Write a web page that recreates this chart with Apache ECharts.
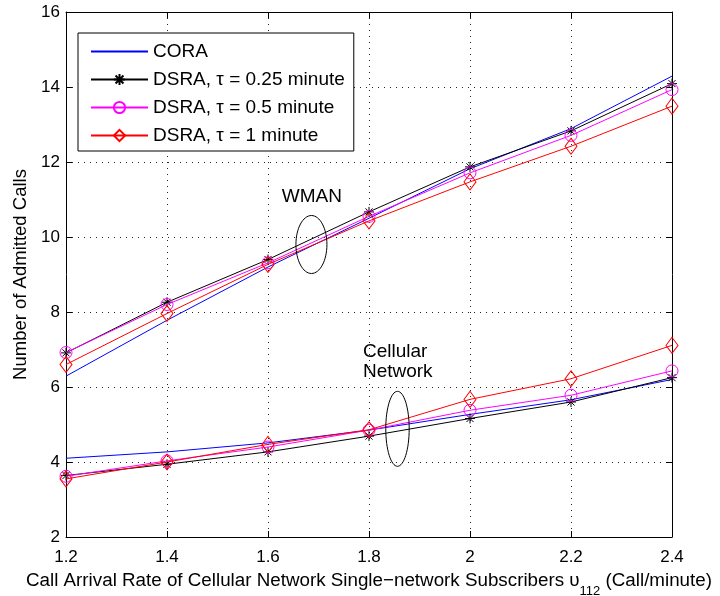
<!DOCTYPE html>
<html>
<head>
<meta charset="utf-8">
<script src="https://cdn.jsdelivr.net/npm/echarts@6/dist/echarts.min.js"></script>
<style>
html,body{margin:0;padding:0;background:#fff;}
#chart{width:720px;height:596px;}
</style>
</head>
<body>
<div id="chart"></div>
<script>
// ---- data ----
const xValues = [1.2, 1.4, 1.6, 1.8, 2.0, 2.2, 2.4];
const legendNames = ['CORA', 'DSRA, \u03c4 = 0.25 minute', 'DSRA, \u03c4 = 0.5 minute', 'DSRA, \u03c4 = 1 minute'];
// WMAN group
const coraWman = [6.29, 7.78, 9.2, 10.5, 11.82, 12.89, 14.29];
const dsra025Wman = [6.91, 8.26, 9.4, 10.67, 11.87, 12.83, 14.09];
const dsra05Wman = [6.92, 8.2, 9.31, 10.55, 11.71, 12.71, 13.93];
const dsra1Wman = [6.6, 7.96, 9.27, 10.43, 11.47, 12.42, 13.49];
// Cellular network group
const coraCell = [4.1, 4.27, 4.51, 4.85, 5.27, 5.66, 6.2];
const dsra025Cell = [3.64, 3.94, 4.27, 4.69, 5.16, 5.6, 6.25];
const dsra05Cell = [3.62, 4.03, 4.4, 4.85, 5.38, 5.78, 6.43];
const dsra1Cell = [3.55, 4.0, 4.47, 4.86, 5.67, 6.22, 7.11];
// annotations (data coordinates)
const wmanLabel = {text: 'WMAN', x: 1.687, y: 11.08};
const cellLabel = {text: 'Cellular\nNetwork', x: 1.788, y: 6.667};
const wmanEllipse = {x: 1.686, y: 9.8, rx: 0.0307, ry: 0.773};
const cellEllipse = {x: 1.8564, y: 4.885, rx: 0.0232, ry: 1.0};

const FONT = 'Liberation Sans, Arial, sans-serif';
const starPath = 'path://M0,-1L0,1M-1,0L1,0M-0.707,-0.707L0.707,0.707M-0.707,0.707L0.707,-0.707';

function zip(ys){ return xValues.map((x,i)=>[x, ys[i]]); }

const styles = [
  {color:'#0000ff', symbol:'none', size:0},
  {color:'#000000', symbol:starPath, size:10},
  {color:'#ff00ff', symbol:'circle', size:12},
  {color:'#ff0000', symbol:'diamond', size:[12,16]}
];

function mkSeries(idx, ys){
  const s = styles[idx];
  return {
    name: legendNames[idx],
    type: 'line',
    data: zip(ys),
    symbol: s.symbol,
    symbolSize: s.size,
    showSymbol: s.symbol !== 'none',
    animation: false,
    lineStyle: {color: s.color, width: 1},
    itemStyle: {color: 'rgba(0,0,0,0)', borderColor: s.color, borderWidth: 1},
    emphasis: {disabled: true},
    z: 2 + idx
  };
}

const series = [
  mkSeries(0, coraWman), mkSeries(1, dsra025Wman), mkSeries(2, dsra05Wman), mkSeries(3, dsra1Wman),
  mkSeries(0, coraCell), mkSeries(1, dsra025Cell), mkSeries(2, dsra05Cell), mkSeries(3, dsra1Cell)
];

const chart = echarts.init(document.getElementById('chart'), null, {renderer: 'canvas'});

const axisCommon = {
  axisLine: {show: true, onZero: false, lineStyle: {color: '#000', width: 1}},
  axisTick: {show: true, inside: true, length: 6, lineStyle: {color: '#000'}},
};

const legendData = legendNames.map((n, i) => i === 0
  ? {name: n, itemStyle: {opacity: 0}}
  : {name: n});

chart.setOption({
  animation: false,
  textStyle: {fontFamily: FONT},
  grid: {left: 66, right: 48, top: 12, bottom: 59, containLabel: false, outerBoundsMode: 'none'},
  legend: {
    data: legendData,
    orient: 'vertical',
    left: 78, top: 33,
    itemWidth: 57, itemHeight: 14, itemGap: 9,
    padding: [9, 9, 6, 12],
    backgroundColor: '#fff',
    borderColor: '#000', borderWidth: 1, borderRadius: 0,
    textStyle: {fontSize: 19, color: '#000', fontFamily: FONT},
    selectedMode: false
  },
  xAxis: [
    Object.assign({
      type: 'value', min: 1.2, max: 2.4, interval: 0.2, position: 'bottom',
      axisLabel: {color: '#000', fontSize: 17, margin: 12, fontFamily: FONT,
        formatter: v => String(+v.toFixed(1))},
      splitLine: {show: true, lineStyle: {color: '#222', type: [1, 5], width: 1}},
      name: 'Call Arrival Rate of Cellular Network Single\u2212network Subscribers \u03c5{sub|112} (Call/minute)',
      nameLocation: 'middle', nameGap: 22,
      nameTextStyle: {color: '#000', fontSize: 18.8, fontFamily: FONT,
        rich: {sub: {fontSize: 13, fontFamily: FONT, color: '#000', padding: [22, 0, 0, 0]}}}
    }, axisCommon),
    Object.assign({
      type: 'value', min: 1.2, max: 2.4, interval: 0.2, position: 'top',
      axisLabel: {show: false}, splitLine: {show: false}
    }, axisCommon)
  ],
  yAxis: [
    Object.assign({
      type: 'value', min: 2, max: 16, interval: 2, position: 'left',
      axisLabel: {color: '#000', fontSize: 17, margin: 6, fontFamily: FONT},
      splitLine: {show: true, lineStyle: {color: '#222', type: [1, 5], width: 1}},
      name: 'Number of Admitted Calls', nameLocation: 'middle', nameGap: 35,
      nameTextStyle: {color: '#000', fontSize: 18.5, fontFamily: FONT}
    }, axisCommon),
    Object.assign({
      type: 'value', min: 2, max: 16, interval: 2, position: 'right',
      axisLabel: {show: false}, splitLine: {show: false}
    }, axisCommon)
  ],
  series: series
});

function px(x, y){ return chart.convertToPixel({xAxisIndex: 0, yAxisIndex: 0}, [x, y]); }
function ellipseEl(e){
  const c = px(e.x, e.y);
  const r1 = px(e.x + e.rx, e.y + e.ry);
  return {
    type: 'ellipse',
    shape: {cx: c[0], cy: c[1], rx: Math.abs(r1[0]-c[0]), ry: Math.abs(r1[1]-c[1])},
    style: {fill: null, stroke: '#000', lineWidth: 1},
    z: 20, silent: true
  };
}
function textEl(t, align){
  const p = px(t.x, t.y);
  return {
    type: 'text', x: p[0], y: p[1], z: 20, silent: true,
    style: {text: t.text, fill: '#000', font: '19px ' + FONT, align: align,
      verticalAlign: 'middle', lineHeight: 20}
  };
}
chart.setOption({
  graphic: [
    ellipseEl(wmanEllipse), ellipseEl(cellEllipse),
    textEl(wmanLabel, 'center'), textEl(cellLabel, 'left')
  ]
});
</script>
</body>
</html>
